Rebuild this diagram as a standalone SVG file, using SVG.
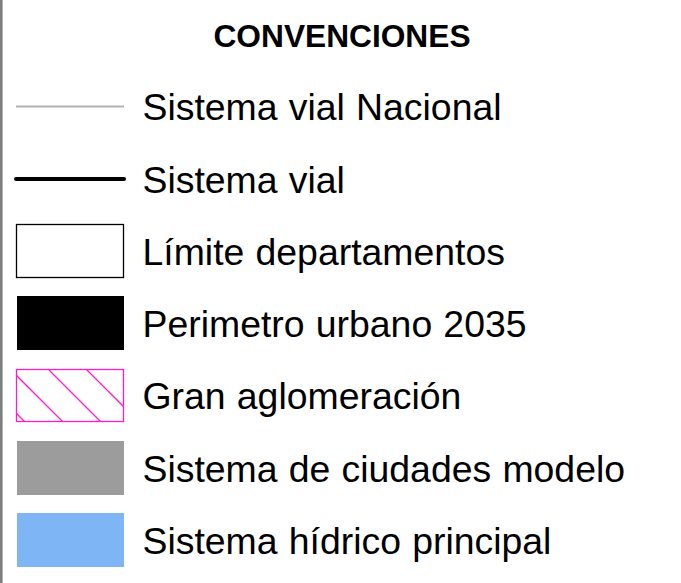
<svg xmlns="http://www.w3.org/2000/svg" width="681" height="583" viewBox="0 0 681 583">
  <style>
    .lbl { font-family: "Liberation Sans", Arial, sans-serif; font-size: 37.4px; fill: #000; word-spacing: 0.8px; }
    .title { font-family: "Liberation Sans", Arial, sans-serif; font-size: 31.7px; font-weight: bold; fill: #000; }
    .hatch { stroke: #ff1ad4; stroke-width: 1.3; fill: none; }
  </style>
  <defs>
    <clipPath id="hclip"><rect x="16.5" y="369.5" width="107" height="52"/></clipPath>
  </defs>
  <rect x="0" y="0" width="681" height="583" fill="#ffffff"/>
  <line x1="1.3" y1="0" x2="1.3" y2="583" stroke="#7f7f7f" stroke-width="2.6"/>
  <g id="title"><text class="title" x="342" y="46.5" text-anchor="middle">CONVENCIONES</text></g>
  <g id="item-vial-nacional">
    <line x1="16" y1="106.5" x2="124" y2="106.5" stroke="#b3b3b3" stroke-width="2"/>
    <text class="lbl" x="142.5" y="120">Sistema vial Nacional</text>
  </g>
  <g id="item-vial">
    <line x1="16" y1="179" x2="124" y2="179" stroke="#000" stroke-width="4" stroke-linecap="round"/>
    <text class="lbl" x="142.5" y="192.5">Sistema vial</text>
  </g>
  <g id="item-limite">
    <rect x="16.5" y="224.5" width="107" height="53" fill="#fff" stroke="#000" stroke-width="1.3"/>
    <text class="lbl" x="142.5" y="264.5">Límite departamentos</text>
  </g>
  <g id="item-perimetro">
    <rect x="17" y="296" width="107" height="54" fill="#000"/>
    <text class="lbl" x="142.5" y="336.5">Perimetro urbano 2035</text>
  </g>
  <g id="item-aglomeracion">
    <rect x="16.5" y="369.5" width="107" height="52" fill="#fff"/>
    <g clip-path="url(#hclip)" class="hatch">
      <line x1="-20" y1="377" x2="80" y2="477"/>
      <line x1="-20" y1="339" x2="100" y2="459"/>
      <line x1="0" y1="321" x2="140" y2="461"/>
      <line x1="40" y1="323" x2="160" y2="443"/>
      <line x1="-20" y1="415" x2="40" y2="475"/>
    </g>
    <rect x="16.5" y="369.5" width="107" height="52" class="hatch" stroke-width="1.5"/>
    <text class="lbl" x="142.5" y="409">Gran aglomeración</text>
  </g>
  <g id="item-ciudades">
    <rect x="17" y="441" width="107" height="54" fill="#9c9c9c"/>
    <text class="lbl" x="142.5" y="481.5">Sistema de ciudades modelo</text>
  </g>
  <g id="item-hidrico">
    <rect x="17" y="513" width="107" height="54" fill="#7db5f5"/>
    <text class="lbl" x="142.5" y="554">Sistema hídrico principal</text>
  </g>
</svg>
